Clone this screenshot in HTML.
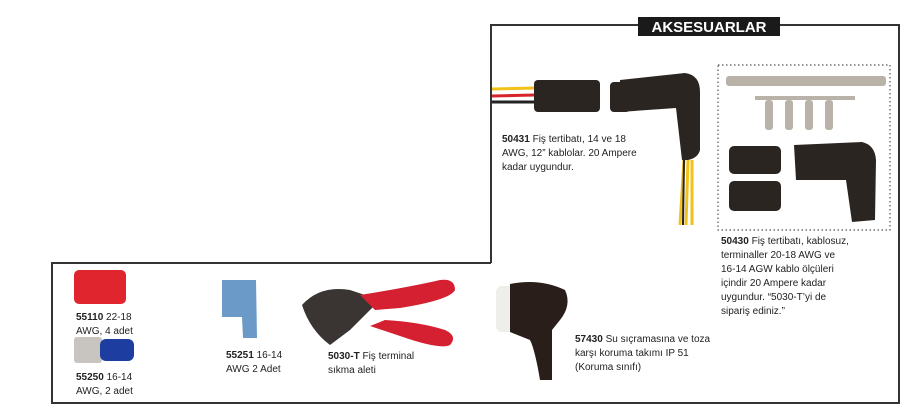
<!DOCTYPE html>
<html><head><meta charset="utf-8"><style>
body{margin:0;width:921px;height:408px;background:#fff;position:relative;overflow:hidden;font-family:"Liberation Sans",sans-serif;}
.t{position:absolute;font-size:10px;line-height:14px;color:#222;white-space:nowrap}
b{font-weight:bold}
</style></head><body>
<svg width="921" height="408" style="position:absolute;left:0;top:0">
<polyline points="491,263 491,25 899,25 899,403 52,403 52,263 491,263" fill="none" stroke="#333" stroke-width="2"/>
<rect x="638" y="17" width="142" height="19" fill="#1a1a1a"/>
<text x="709" y="32" text-anchor="middle" fill="#fff" font-family="Liberation Sans" font-weight="bold" font-size="15">AKSESUARLAR</text>
<rect x="718" y="65" width="172" height="165" fill="none" stroke="#555" stroke-width="1.2" stroke-dasharray="1.5,2.5"/>
<!-- 50431 -->
<line x1="492" y1="89" x2="535" y2="88" stroke="#f2c21b" stroke-width="3"/>
<line x1="492" y1="96" x2="535" y2="95" stroke="#d8232a" stroke-width="3"/>
<line x1="492" y1="102" x2="535" y2="102" stroke="#222" stroke-width="3"/>
<rect x="534" y="80" width="66" height="32" rx="4" fill="#2b2522"/>
<rect x="610" y="82" width="20" height="30" rx="4" fill="#2b2522"/>
<path d="M620,80 L685,73 Q700,75 700,92 L700,150 Q698,158 688,160 L682,160 L676,108 L620,112 Z" fill="#2b2522"/>
<path d="M684,160 L680,225 M688,160 L686,225 M692,160 L692,225" stroke="#f2c21b" stroke-width="3"/>
<line x1="684" y1="160" x2="683" y2="225" stroke="#222" stroke-width="2"/>
<!-- 50430 parts -->
<g fill="#b8b2a8"><rect x="726" y="76" width="160" height="10" rx="3"/><rect x="755" y="96" width="100" height="4"/>
<rect x="765" y="100" width="8" height="30" rx="3"/><rect x="785" y="100" width="8" height="30" rx="3"/><rect x="805" y="100" width="8" height="30" rx="3"/><rect x="825" y="100" width="8" height="30" rx="3"/></g>
<rect x="729" y="146" width="52" height="28" rx="5" fill="#2b2522"/>
<rect x="729" y="181" width="52" height="30" rx="5" fill="#2b2522"/>
<path d="M794,145 L862,142 Q875,145 876,160 L875,220 L852,222 L846,180 L796,180 Z" fill="#2b2522"/>
<!-- bottom items -->
<rect x="74" y="270" width="52" height="34" rx="5" fill="#e0252e"/>
<rect x="74" y="337" width="28" height="26" rx="3" fill="#c8c4c0"/>
<rect x="100" y="339" width="34" height="22" rx="6" fill="#1d3ea0"/>
<path d="M222,280 L256,280 L257,338 L243,338 L242,317 L222,317 Z" fill="#6b9ac8"/>
<path d="M302,305 Q320,285 350,290 L380,300 L350,330 L330,345 Q310,330 302,305Z" fill="#3a3432"/>
<path d="M360,295 Q410,287 440,280 Q455,278 455,290 Q450,300 400,308 L375,310 Z" fill="#d42030"/>
<path d="M385,320 Q420,322 445,330 Q458,336 450,345 Q440,350 400,336 L370,326 Z" fill="#d42030"/>
<rect x="496" y="286" width="22" height="46" rx="6" fill="#eeeeea"/>
<path d="M510,284 Q540,278 565,290 Q572,305 560,320 L552,330 L552,380 L540,380 Q535,350 530,340 L510,332 Z" fill="#2a1e1a"/>
</svg>
<div class="t" style="left:502px;top:133px"><b>50431</b> Fiş tertibatı, 14 ve 18<br>AWG, 12” kablolar. 20 Ampere<br>kadar uygundur.</div>
<div class="t" style="left:721px;top:235px"><b>50430</b> Fiş tertibatı, kablosuz,<br>terminaller 20-18 AWG ve<br>16-14 AGW kablo ölçüleri<br>içindir 20 Ampere kadar<br>uygundur. “5030-T’yi de<br>sipariş ediniz.”</div>
<div class="t" style="left:76px;top:311px"><b>55110</b> 22-18<br>AWG, 4 adet</div>
<div class="t" style="left:76px;top:371px"><b>55250</b> 16-14<br>AWG, 2 adet</div>
<div class="t" style="left:226px;top:349px"><b>55251</b> 16-14<br>AWG 2 Adet</div>
<div class="t" style="left:328px;top:350px"><b>5030-T</b> Fiş terminal<br>sıkma aleti</div>
<div class="t" style="left:575px;top:333px"><b>57430</b> Su sıçramasına ve toza<br>karşı koruma takımı IP 51<br>(Koruma sınıfı)</div>
</body></html>
